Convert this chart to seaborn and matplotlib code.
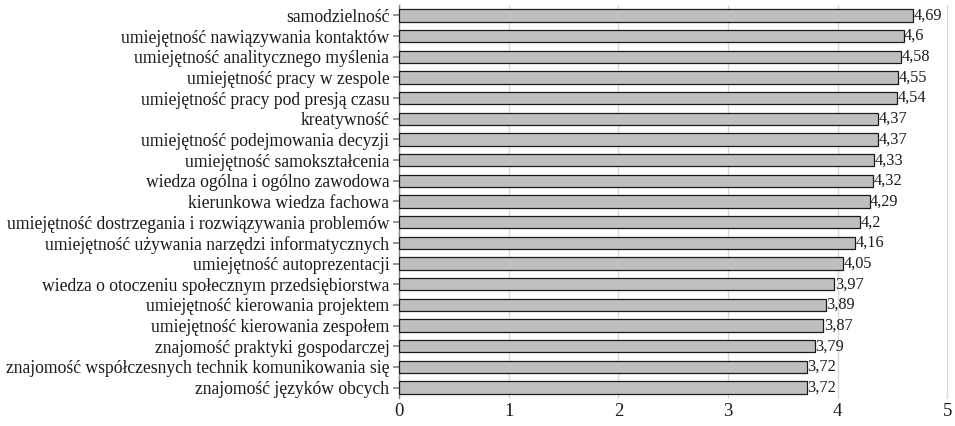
import matplotlib
matplotlib.use("Agg")
import matplotlib.pyplot as plt
import seaborn as sns
import pandas as pd

categories = [
    "samodzielność",
    "umiejętność nawiązywania kontaktów",
    "umiejętność analitycznego myślenia",
    "umiejętność pracy w zespole",
    "umiejętność pracy pod presją czasu",
    "kreatywność",
    "umiejętność podejmowania decyzji",
    "umiejętność samokształcenia",
    "wiedza ogólna i ogólno zawodowa",
    "kierunkowa wiedza fachowa",
    "umiejętność dostrzegania i rozwiązywania problemów",
    "umiejętność używania narzędzi informatycznych",
    "umiejętność autoprezentacji",
    "wiedza o otoczeniu społecznym przedsiębiorstwa",
    "umiejętność kierowania projektem",
    "umiejętność kierowania zespołem",
    "znajomość praktyki gospodarczej",
    "znajomość współczesnych technik komunikowania się",
    "znajomość języków obcych",
]
values = [4.69, 4.6, 4.58, 4.55, 4.54, 4.37, 4.37, 4.33, 4.32, 4.29,
          4.2, 4.16, 4.05, 3.97, 3.89, 3.87, 3.79, 3.72, 3.72]
value_labels = ["4,69", "4,6", "4,58", "4,55", "4,54", "4,37", "4,37", "4,33", "4,32", "4,29",
                "4,2", "4,16", "4,05", "3,97", "3,89", "3,87", "3,79", "3,72", "3,72"]
xticks = [0, 1, 2, 3, 4, 5]

sns.set_theme(style="white")
plt.rcParams['font.family'] = ['Liberation Serif', 'DejaVu Serif']

df = pd.DataFrame({"cat": categories, "val": values})

fig = plt.figure(figsize=(9.55, 4.26), dpi=100)
ax = fig.add_axes([0.418, 0.066, 0.574, 0.922])

sns.barplot(data=df, x="val", y="cat", orient="h", color="#bfbfbf",
            edgecolor="#1a1a1a", linewidth=0.9, width=0.6, saturation=1, ax=ax, zorder=3)

for i, (v, lab) in enumerate(zip(values, value_labels)):
    ax.text(v + 0.005, i, lab, va="center", ha="left", fontsize=11.7, color="#1a1a1a")

ax.set_xlim(0, 5)
ax.set_ylim(18.5, -0.5)
ax.set_xticks(xticks)
ax.set_xticklabels([str(t) for t in xticks], fontsize=13.5)
ax.tick_params(axis="y", labelsize=12.7, length=4, color="#868686", left=True, pad=3)
ax.tick_params(axis="x", length=0, pad=4)
ax.xaxis.grid(True, color="#d9d9d9", linewidth=1.0, zorder=0)
for gl in ax.get_xgridlines():
    gl.set_clip_on(False)
ax.set_axisbelow(True)
ax.set_xlabel("")
ax.set_ylabel("")
for s in ["top", "right", "bottom"]:
    ax.spines[s].set_visible(False)
ax.spines["left"].set_color("#868686")
ax.spines["left"].set_linewidth(1.0)
for t in ax.get_yticklabels():
    t.set_color("#1a1a1a")
for t in ax.get_xticklabels():
    t.set_color("#1a1a1a")

fig.savefig("out.png", dpi=100)
